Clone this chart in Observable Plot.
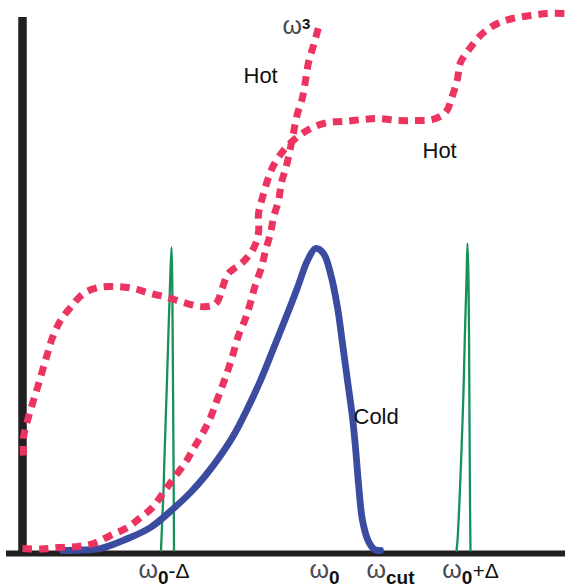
<!DOCTYPE html>
<html>
<head>
<meta charset="utf-8">
<script src="https://cdn.jsdelivr.net/npm/d3@7"></script>
<script src="https://cdn.jsdelivr.net/npm/@observablehq/plot@0.6"></script>
<style>
  html, body { margin: 0; padding: 0; background: #fff; }
  #chart svg { display: block; }
</style>
</head>
<body>
<div id="chart"></div>
<script>
// ---- Data (arbitrary frequency / intensity units) ----
// Cold (blue, solid)
const coldX = [40, 58, 78, 103, 128, 151, 168, 183, 198, 211, 225, 238, 251, 265, 275, 285, 293, 301, 308, 315, 320, 325, 330, 333, 336, 340, 346, 352, 358];
const coldY = [0, 0.5, 2, 11, 23, 42, 58, 75, 95, 115, 142, 170, 202, 237, 263, 290, 302, 297, 277, 243, 207, 170, 133, 103, 67, 30, 9, 1, 0];

// omega^3 (red dotted)
const cubeX = [0, 18, 36, 55, 71, 88, 105, 118, 130, 141, 151, 163, 171, 180, 188, 194, 200, 206, 211, 216, 223, 228, 233, 239, 243, 248, 251, 256, 259, 264, 268, 271, 275, 280, 283, 286, 291, 296];
const cubeY = [2, 1.5, 3, 4, 7, 15, 23, 33, 43, 58, 72, 88, 102, 117, 133, 149, 165, 182, 198, 215, 232, 248, 266, 283, 300, 317, 333, 350, 368, 385, 403, 418, 437, 453, 470, 488, 505, 523];

// Hot (red dotted, stepped)
const hotX = [1, 1, 5, 10, 15, 20, 25, 30, 38, 48, 61, 76, 93, 111, 128, 145, 161, 178, 190, 195, 200, 206, 220, 231, 236, 236, 240, 245, 251, 261, 273, 288, 305, 321, 340, 356, 375, 391, 410, 423, 430, 435, 438, 448, 460, 475, 490, 508, 525, 543];
const hotY = [95, 113, 130, 147, 163, 180, 197, 213, 230, 243, 257, 263, 264, 262, 257, 253, 248, 244, 245, 249, 263, 277, 288, 302, 318, 337, 353, 370, 385, 400, 412, 422, 428, 429, 431, 432, 430, 430, 431, 438, 455, 472, 488, 503, 517, 527, 532, 535, 537, 537];

// Narrow green lines at w0-D and w0+D
const lowPeakX = [138.5, 139.5, 141, 142.5, 144.5, 146, 147.5, 149, 149.8, 150.2, 150.7, 151.2, 151.5];
const lowPeakY = [0, 25, 60, 110, 170, 220, 265, 303, 265, 210, 140, 60, 0];
const highPeakX = [434, 435, 437, 439, 441, 442.5, 444, 445, 446, 446.5, 447, 447.5, 448];
const highPeakY = [0, 10, 50, 100, 160, 220, 270, 307, 270, 220, 130, 50, 0];

// Tick labels on the frequency axis
const tickLabels = ["ω_{0}-Δ", "ω_{0}", "ω_{cut}", "ω_{0}+Δ"];
const tickX = [141.5, 302, 368, 448];

// Curve annotations
const noteLabels = ["ω^{3}", "Hot", "Hot", "Cold"];
const noteX = [260, 221, 400, 331];
const noteY = [517, 468, 393, 127];

// ---- Build ----
const pts = (xs, ys) => xs.map((x, i) => ({x, y: ys[i]}));
const font = "Liberation Sans, Arial, Helvetica, sans-serif";
const red = "#ec3461", blue = "#3a4ba0", green = "#17905a", black = "#231f20";
const dotted = {curve: "catmull-rom", stroke: red, strokeWidth: 7, strokeDasharray: "9.5,7", strokeLinecap: "butt", strokeLinejoin: "miter"};

const chart = Plot.plot({
  width: 569,
  height: 588,
  marginLeft: 22,
  marginRight: 4,
  marginTop: 14,
  marginBottom: 38,
  x: {domain: [0, 543], axis: null},
  y: {domain: [0, 536], axis: null},
  style: {fontFamily: font, background: "#fff"},
  marks: [
    Plot.ruleY([0], {x1: -16, x2: 543, dy: 3, stroke: black, strokeWidth: 6}),
    Plot.ruleX([0], {y1: -6, y2: 533, stroke: black, strokeWidth: 8.5}),
    Plot.line(pts(lowPeakX, lowPeakY), {x: "x", y: "y", curve: "catmull-rom", stroke: green, strokeWidth: 2.3}),
    Plot.line(pts(highPeakX, highPeakY), {x: "x", y: "y", curve: "catmull-rom", stroke: green, strokeWidth: 2.3}),
    Plot.line(pts(coldX, coldY), {x: "x", y: "y", curve: "catmull-rom", stroke: blue, strokeWidth: 6.8}),
    Plot.line(pts(cubeX, cubeY), {x: "x", y: "y", ...dotted}),
    Plot.line(pts(hotX, hotY), {x: "x", y: "y", ...dotted}),
    Plot.text(tickLabels, {x: tickX, y: 0, text: d => d, dy: 27, lineAnchor: "bottom", textAnchor: "middle", fontSize: 21, fill: "#111"}),
    Plot.text(noteLabels, {x: noteX, y: noteY, text: d => d, lineAnchor: "bottom", textAnchor: "start", fontSize: 22, fill: "#111"})
  ]
});

// Rich text: ω glyphs, _{sub} and ^{sup}
function enrich(svg) {
  svg.querySelectorAll("text").forEach(t => {
    const s = t.textContent;
    if (!/ω|[_^]\{/.test(s)) return;
    t.textContent = "";
    let shift = 0;
    const re = /([_^])\{([^}]*)\}|(ω)|([^_^ω]+)/g;
    for (const m of s.matchAll(re)) {
      const ts = document.createElementNS("http://www.w3.org/2000/svg", "tspan");
      if (m[1]) {
        const d = m[1] === "_" ? 6 : -5;
        ts.setAttribute("dy", d - shift); shift = d;
        ts.setAttribute("font-size", m[1] === "_" ? 19 : 15);
        ts.setAttribute("font-weight", "bold");
        ts.textContent = m[2];
      } else {
        ts.setAttribute("dy", -shift); shift = 0;
        if (m[3]) { ts.setAttribute("font-size", 25); ts.setAttribute("fill", "#4a4a55"); }
        ts.textContent = m[3] || m[4];
      }
      t.appendChild(ts);
    }
  });
}
enrich(chart);
document.getElementById("chart").appendChild(chart);
</script>
</body>
</html>
